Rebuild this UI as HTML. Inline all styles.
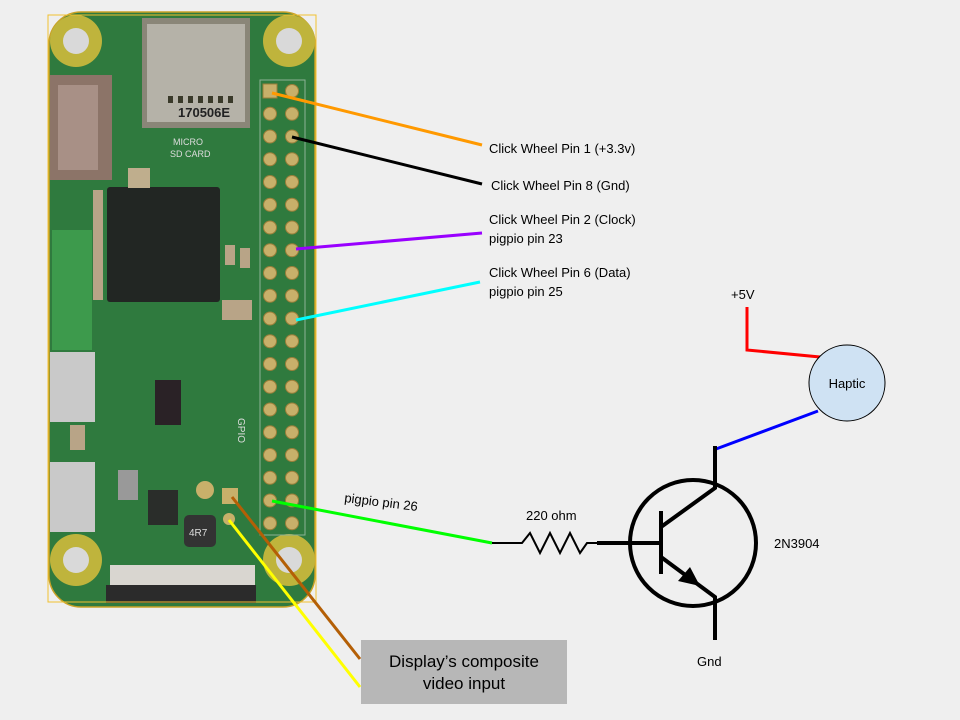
<!DOCTYPE html>
<html><head><meta charset="utf-8"><style>
html,body{margin:0;padding:0;background:#efefef;}
svg{display:block;font-family:"Liberation Sans",Arial,sans-serif;}
</style></head><body>
<svg width="960" height="720" viewBox="0 0 960 720" xmlns="http://www.w3.org/2000/svg">
<rect width="960" height="720" fill="#efefef"/>
<!-- board -->
<rect x="49" y="12" width="266" height="595" rx="32" fill="#2f7a3e"/>
<rect x="49" y="12" width="266" height="595" rx="32" fill="none" stroke="#c9a227" stroke-width="1.5"/>
<rect x="52" y="230" width="40" height="120" fill="#3d9a4c"/>
<!-- corner holes -->
<g fill="#bfb43c"><circle cx="76" cy="41" r="26"/><circle cx="289" cy="41" r="26"/><circle cx="76" cy="560" r="26"/><circle cx="289" cy="560" r="26"/></g>
<g fill="#d9d9d9"><circle cx="76" cy="41" r="13"/><circle cx="289" cy="41" r="13"/><circle cx="76" cy="560" r="13"/><circle cx="289" cy="560" r="13"/></g>
<!-- sd card -->
<rect x="142" y="18" width="108" height="110" fill="#8a8678"/>
<rect x="147" y="24" width="98" height="98" fill="#b5b2a8"/>
<g fill="#3a3a2a"><rect x="168" y="96" width="5" height="7"/><rect x="178" y="96" width="5" height="7"/><rect x="188" y="96" width="5" height="7"/><rect x="198" y="96" width="5" height="7"/><rect x="208" y="96" width="5" height="7"/><rect x="218" y="96" width="5" height="7"/><rect x="228" y="96" width="5" height="7"/></g>
<text x="178" y="117" font-size="13" font-weight="bold" fill="#222">170506E</text>
<text x="173" y="145" font-size="9" fill="#ddd">MICRO</text>
<text x="170" y="157" font-size="9" fill="#ddd">SD CARD</text>
<!-- hdmi -->
<rect x="50" y="75" width="62" height="105" fill="#8c7468"/>
<rect x="58" y="85" width="40" height="85" fill="#a89086"/>
<!-- SoC -->
<rect x="107" y="187" width="113" height="115" rx="3" fill="#222623"/>
<rect x="128" y="168" width="22" height="20" fill="#bfae8d"/>
<g fill="#b8a487"><rect x="93" y="190" width="10" height="110"/><rect x="225" y="245" width="10" height="20"/><rect x="240" y="248" width="10" height="20"/><rect x="222" y="300" width="30" height="20"/></g>
<!-- usb ports -->
<rect x="50" y="352" width="45" height="70" fill="#c9c9c9"/>
<rect x="50" y="462" width="45" height="70" fill="#c9c9c9"/>
<rect x="70" y="425" width="15" height="25" fill="#b8a487"/>
<rect x="155" y="380" width="26" height="45" fill="#2a2226"/>
<rect x="148" y="490" width="30" height="35" fill="#2a2d2a"/>
<rect x="184" y="515" width="32" height="32" rx="5" fill="#333"/>
<text x="189" y="536" font-size="10" fill="#ddd">4R7</text>
<circle cx="205" cy="490" r="9" fill="#c8b06a"/>
<rect x="118" y="470" width="20" height="30" fill="#999"/>
<text x="238" y="418" font-size="10" fill="#ddd" transform="rotate(90 238 418)">GPIO</text>
<!-- ribbon connector -->
<rect x="110" y="565" width="145" height="22" fill="#d9d6d0"/>
<rect x="106" y="585" width="150" height="18" fill="#2b2b2b"/>
<rect x="222" y="488" width="16" height="16" fill="#c8b06a"/>
<circle cx="229" cy="519" r="6" fill="#c8b06a"/>
<!-- header box -->
<rect x="260" y="80" width="45" height="455" fill="none" stroke="#8cb396" stroke-width="1"/>
<g fill="#c8b06a" stroke="#9b7f3a" stroke-width="1">
<rect x="263" y="84" width="14" height="14"/>
<circle cx="292" cy="91" r="6.5"/>
<circle cx="270" cy="113.75" r="6.5"/><circle cx="292" cy="113.75" r="6.5"/>
<circle cx="270" cy="136.5" r="6.5"/><circle cx="292" cy="136.5" r="6.5"/>
<circle cx="270" cy="159.25" r="6.5"/><circle cx="292" cy="159.25" r="6.5"/>
<circle cx="270" cy="182" r="6.5"/><circle cx="292" cy="182" r="6.5"/>
<circle cx="270" cy="204.75" r="6.5"/><circle cx="292" cy="204.75" r="6.5"/>
<circle cx="270" cy="227.5" r="6.5"/><circle cx="292" cy="227.5" r="6.5"/>
<circle cx="270" cy="250.25" r="6.5"/><circle cx="292" cy="250.25" r="6.5"/>
<circle cx="270" cy="273" r="6.5"/><circle cx="292" cy="273" r="6.5"/>
<circle cx="270" cy="295.75" r="6.5"/><circle cx="292" cy="295.75" r="6.5"/>
<circle cx="270" cy="318.5" r="6.5"/><circle cx="292" cy="318.5" r="6.5"/>
<circle cx="270" cy="341.25" r="6.5"/><circle cx="292" cy="341.25" r="6.5"/>
<circle cx="270" cy="364" r="6.5"/><circle cx="292" cy="364" r="6.5"/>
<circle cx="270" cy="386.75" r="6.5"/><circle cx="292" cy="386.75" r="6.5"/>
<circle cx="270" cy="409.5" r="6.5"/><circle cx="292" cy="409.5" r="6.5"/>
<circle cx="270" cy="432.25" r="6.5"/><circle cx="292" cy="432.25" r="6.5"/>
<circle cx="270" cy="455" r="6.5"/><circle cx="292" cy="455" r="6.5"/>
<circle cx="270" cy="477.75" r="6.5"/><circle cx="292" cy="477.75" r="6.5"/>
<circle cx="270" cy="500.5" r="6.5"/><circle cx="292" cy="500.5" r="6.5"/>
<circle cx="270" cy="523.25" r="6.5"/><circle cx="292" cy="523.25" r="6.5"/>
</g>
<rect x="48" y="15" width="268" height="587" fill="none" stroke="#f0c030" stroke-width="1"/>
<!-- wires -->
<g stroke-width="3" fill="none">
<line x1="272" y1="93" x2="482" y2="145" stroke="#ff9900"/>
<line x1="292" y1="137" x2="482" y2="184" stroke="#000"/>
<line x1="296" y1="249" x2="482" y2="233" stroke="#9900ff"/>
<line x1="296" y1="320" x2="480" y2="282" stroke="#00ffff"/>
<line x1="272" y1="501" x2="492" y2="543" stroke="#00ff00"/>
<line x1="232" y1="497" x2="360" y2="659" stroke="#b45f06"/>
<line x1="229" y1="520" x2="360" y2="687" stroke="#ffff00"/>
<line x1="716" y1="449" x2="818" y2="411" stroke="#0000ff"/>
<polyline points="747,307 747,350 820,357" stroke="#ff0000"/>
</g>
<!-- labels -->
<g font-size="13" fill="#000">
<text x="489" y="153">Click Wheel Pin 1 (+3.3v)</text>
<text x="491" y="190">Click Wheel Pin 8 (Gnd)</text>
<text x="489" y="224">Click Wheel Pin 2 (Clock)</text>
<text x="489" y="243">pigpio pin 23</text>
<text x="489" y="277">Click Wheel Pin 6 (Data)</text>
<text x="489" y="296">pigpio pin 25</text>
<text x="731" y="299">+5V</text>
<text x="526" y="520">220 ohm</text>
<text x="774" y="548">2N3904</text>
<text x="697" y="666">Gnd</text>
<text x="344" y="502" transform="rotate(7 344 502)">pigpio pin 26</text>
</g>
<!-- haptic -->
<circle cx="847" cy="383" r="38" fill="#cfe2f3" stroke="#000" stroke-width="1"/>
<text x="847" y="388" font-size="13" text-anchor="middle">Haptic</text>
<!-- resistor -->
<polyline points="492,543 522,543 530,533 540,553 550,533 560,553 570,533 580,553 587,543 597,543" fill="none" stroke="#000" stroke-width="2"/>
<!-- transistor -->
<circle cx="693" cy="543" r="63" fill="none" stroke="#000" stroke-width="4"/>
<g stroke="#000" stroke-width="4" fill="none">
<line x1="597" y1="543" x2="661" y2="543"/>
<line x1="661" y1="511" x2="661" y2="574"/>
<polyline points="661,527 715,488 715,446"/>
<polyline points="661,557 715,597 715,640"/>
</g>
<polygon points="700,586 678,581 690,567" fill="#000"/>
<!-- gray box -->
<rect x="361" y="640" width="206" height="64" fill="#b7b7b7"/>
<text x="464" y="667" font-size="17" text-anchor="middle">Display’s composite</text>
<text x="464" y="689" font-size="17" text-anchor="middle">video input</text>
</svg>
</body></html>
